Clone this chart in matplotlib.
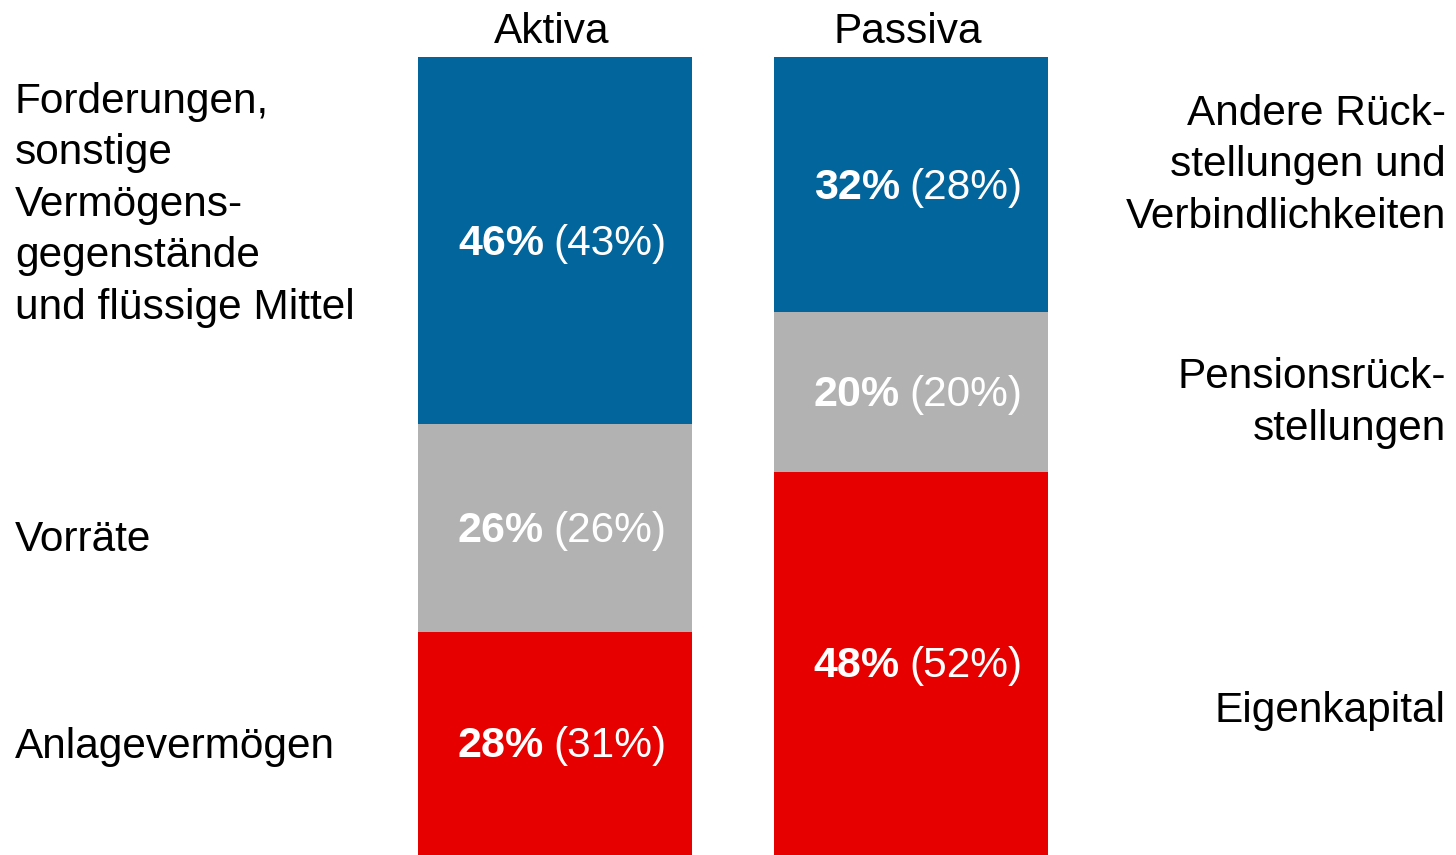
import numpy as np
import matplotlib.pyplot as plt

plt.rcParams['font.family'] = ['Liberation Sans', 'DejaVu Sans']

# data: segments from bottom to top
columns = ['Aktiva', 'Passiva']
aktiva = [28, 26, 46]
aktiva_prev = [31, 26, 43]
passiva = [48, 20, 32]
passiva_prev = [52, 20, 28]
aktiva_labels = ['Anlagevermögen', 'Vorräte',
                 'Forderungen,\nsonstige\nVermögens-\ngegenstände\nund flüssige Mittel']
passiva_labels = ['Eigenkapital', 'Pensionsrück-\nstellungen',
                  'Andere Rück-\nstellungen und\nVerbindlichkeiten']

colors = ['#e60000', '#b2b2b2', '#02659c']

# baseline of last text line, in pixels from figure bottom
aktiva_label_y = [97, 304, 536]
passiva_label_y = [133, 415, 627]

fig = plt.figure(figsize=(14.56, 8.55), dpi=100)
ax = fig.add_axes([418/1456, 0, 630/1456, 798/855])

x = np.arange(len(columns))
width = 274/356
for j, (vals, prev) in enumerate([(aktiva, aktiva_prev), (passiva, passiva_prev)]):
    bottom = 0
    for v, p, c in zip(vals, prev, colors):
        ax.bar(x[j], v, bottom=bottom, width=width, color=c, linewidth=0)
        mid = bottom + v/2
        ax.annotate(f'{v}%', (x[j], mid), xytext=(-11, -14), textcoords='offset pixels',
                    ha='right', va='baseline', color='white', fontsize=31, fontweight='bold')
        ax.annotate(f'({p}%)', (x[j], mid), xytext=(-2, -14), textcoords='offset pixels',
                    ha='left', va='baseline', color='white', fontsize=30.5)
        bottom += v
    ax.annotate(columns[j], (x[j], 100), xytext=(-3, 14), textcoords='offset pixels',
                ha='center', va='baseline', fontsize=30.5, annotation_clip=False)

for lab, y in zip(aktiva_labels, aktiva_label_y):
    fig.text(15/1456, y/855, lab, ha='left', va='baseline', fontsize=30.5, linespacing=1.375)
for lab, y in zip(passiva_labels, passiva_label_y):
    fig.text(1446/1456, y/855, lab, ha='right', va='baseline', fontsize=30.5,
             linespacing=1.375, multialignment='right')

ax.set_xlim(-width/2, 1 + width/2)
ax.set_ylim(0, 100)
ax.axis('off')

fig.savefig('out.png', dpi=100)
